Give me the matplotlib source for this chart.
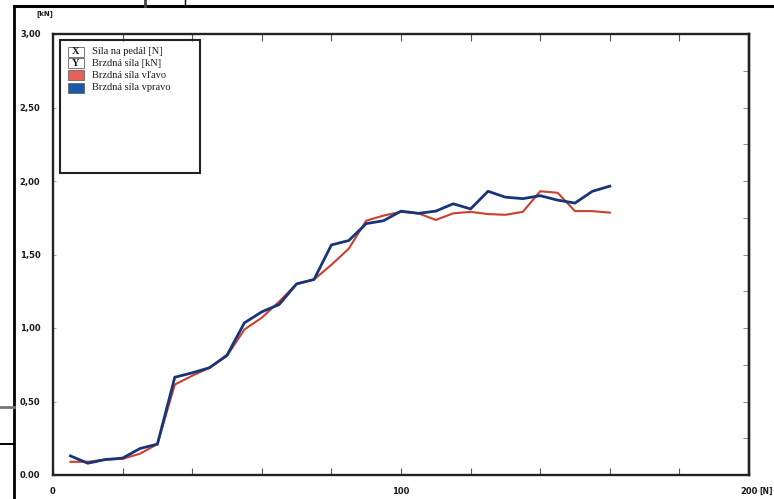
import matplotlib
matplotlib.use("Agg")
import matplotlib.pyplot as plt
from matplotlib.lines import Line2D
from matplotlib.patches import Rectangle
import numpy as np

W, H = 774, 499
BLUE, RED = "#17367a", "#cc3f30"
INK = "#1a1a1a"

# pedal force [N]
sila_pedal = [5, 10, 15, 20, 25, 30, 35, 40, 45, 50, 55, 60, 65, 70, 75, 80,
              85, 90, 95, 100, 105, 110, 115, 120, 125, 130, 135, 140, 145,
              150, 155, 160]
# brake force left [kN]
brzdna_vlavo = [0.09, 0.09, 0.105, 0.11, 0.145, 0.21, 0.615, 0.675, 0.73,
                0.81, 0.99, 1.07, 1.18, 1.30, 1.33, 1.43, 1.54, 1.73, 1.765,
                1.79, 1.78, 1.735, 1.78, 1.79, 1.775, 1.77, 1.79, 1.93, 1.92,
                1.795, 1.795, 1.785]
# brake force right [kN]
brzdna_vpravo = [0.13, 0.08, 0.105, 0.115, 0.18, 0.21, 0.665, 0.695, 0.73,
                 0.815, 1.035, 1.11, 1.16, 1.30, 1.33, 1.565, 1.595, 1.71,
                 1.73, 1.795, 1.78, 1.795, 1.845, 1.81, 1.93, 1.89, 1.88,
                 1.90, 1.87, 1.85, 1.93, 1.965]

y_ticks = np.arange(0, 3.01, 0.5)
y_labels = ["0.00", "0,50", "1,00", "1,50", "2,00", "2,50", "3,00"]
y_ticks_right = np.arange(0, 3.01, 0.25)
x_ticks = np.arange(0, 201, 20)
x_labels = ["0", "", "", "", "", "100", "", "", "", "", "200"]


def fx(px):
    return px / W


def fy(py):
    return 1 - py / H


fig = plt.figure(figsize=(W / 100, H / 100), dpi=100)
ax = fig.add_axes([fx(53), fy(475), (749 - 53) / W, (475 - 34) / H])

ax.plot(sila_pedal, brzdna_vlavo, color=RED, lw=1.5, zorder=3)
ax.plot(sila_pedal, brzdna_vpravo, color=BLUE, lw=2.0, zorder=4)

ax.set_xlim(0, 200)
ax.set_ylim(0, 3)
ax.set_xticks(x_ticks)
ax.set_xticklabels(x_labels)
ax.set_yticks(y_ticks)
ax.set_yticklabels(y_labels)
ax.tick_params(axis="both", direction="in", color="#555555", labelsize=6,
               labelcolor=INK)
ax.tick_params(axis="x", top=True, length=5, width=0.8, pad=9)
ax.tick_params(axis="y", length=2.5, width=0.6, pad=9, color="#999999")
for lab in ax.get_xticklabels() + ax.get_yticklabels():
    lab.set_fontweight("bold")
for sp in ax.spines.values():
    sp.set_linewidth(1.7)
    sp.set_color("#222222")

# right-hand ticks every 0.25 kN
rax = ax.secondary_yaxis("right")
rax.set_yticks(y_ticks_right)
rax.set_yticklabels([])
rax.tick_params(direction="in", length=4, width=0.6, color="#777777")
rax.spines["right"].set_linewidth(1.7)
rax.spines["right"].set_color("#222222")

# axis units
fig.text(fx(36), fy(14), "[kN]", fontsize=5, fontweight="bold", color=INK,
         ha="left", va="center")
fig.text(fx(773), fy(491), "[N]", fontsize=5.5, fontweight="bold", color=INK,
         ha="right", va="center")

# legend drawn as in the original printout
fig.add_artist(Rectangle((fx(60), fy(173)), fx(200) - fx(60), fy(40) - fy(173),
                         transform=fig.transFigure, fill=False,
                         ec="#222222", lw=1.5))
serif = "Liberation Serif"
entries = [("X", None, "Síla na pedál [N]", 52),
           ("Y", None, "Brzdná síla [kN]", 63),
           (None, "#e8605a", "Brzdná síla vľavo", 75),
           (None, "#1b5aa6", "Brzdná síla vpravo", 88)]
for letter, col, text, py in entries:
    if letter:
        fig.add_artist(Rectangle((fx(68), fy(py + 5)), fx(16), fy(0) - fy(10),
                                 transform=fig.transFigure, fill=False,
                                 ec="#777777", lw=0.7))
        fig.text(fx(76), fy(py), letter, family=serif, fontsize=7.5,
                 fontweight="bold", ha="center", va="center", color=INK)
    else:
        fig.add_artist(Rectangle((fx(68), fy(py + 5)), fx(16), fy(0) - fy(10),
                                 transform=fig.transFigure, fc=col,
                                 ec="#555555", lw=0.5))
    fig.text(fx(92), fy(py), text, family=serif, fontsize=7.5, ha="left",
             va="center", color=INK)

# outer page frame of the scan
for (x0, y0, x1, y1, c, lw) in [(14, 6, 774, 6, "black", 2.2),
                                (14, 6, 14, 499, "black", 2.0),
                                (0, 407, 14, 407, "#777777", 2.0),
                                (0, 444, 14, 444, "black", 1.4),
                                (185, 0, 185, 6, "black", 1.0),
                                (145, 0, 145, 6, "#444444", 2.0)]:
    fig.add_artist(Line2D([fx(x0), fx(x1)], [fy(y0), fy(y1)],
                          transform=fig.transFigure, color=c, lw=lw))

fig.savefig("out.png", dpi=100)
